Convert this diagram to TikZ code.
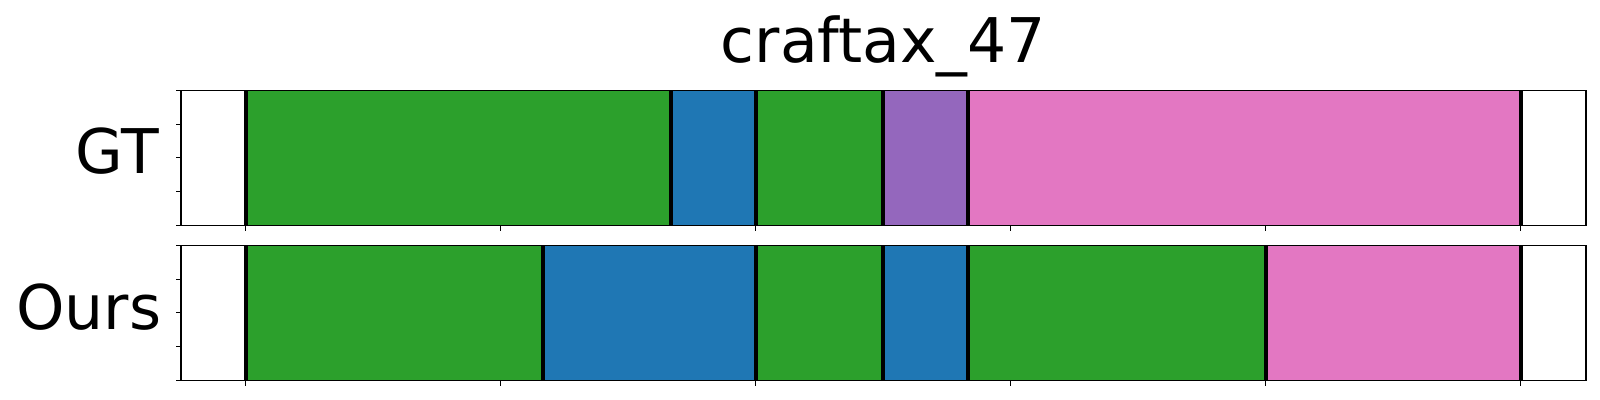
\documentclass[tikz,border=0pt]{standalone}
\usepackage{fontspec}
\setmainfont{DejaVu Sans}
\definecolor{tabgreen}{HTML}{2CA02C}
\definecolor{tabblue}{HTML}{1F77B4}
\definecolor{tabpurple}{HTML}{9467BD}
\definecolor{tabpink}{HTML}{E377C2}
\begin{document}
\begin{tikzpicture}
  [x=0.5pt,y=-0.5pt,
   every node/.style={inner sep=0pt,font=\fontsize{30.8pt}{37pt}\selectfont},
   frame/.style={draw=black,line width=0.6pt},
   tick/.style={draw=black,line width=0.5pt},
   bound/.style={draw=black,line width=2pt}]
  \useasboundingbox (0,0) rectangle (1600,400);
  % title and row labels
  \node[anchor=base] (title) at (883.5,62.7) {craftax\_47};
  \node[anchor=base east] (gt) at (159,174) {GT};
  \node[anchor=base east] (ours) at (161.5,330) {Ours};
  % GT segments
  \foreach \a/\b/\c in {245.7/670.7/tabgreen,670.7/755.7/tabblue,755.7/883.2/tabgreen,
                        883.2/968.2/tabpurple,968.2/1520.7/tabpink}
    \fill[\c] (\a,90.3) rectangle (\b,225.3);
  % Ours segments
  \foreach \a/\b/\c in {245.7/543.2/tabgreen,543.2/755.7/tabblue,755.7/883.2/tabgreen,
                        883.2/968.2/tabblue,968.2/1265.7/tabgreen,1265.7/1520.7/tabpink}
    \fill[\c] (\a,245.3) rectangle (\b,380.3);
  % segment boundaries
  \foreach \x in {245.7,670.7,755.7,883.2,968.2,1520.7}
    \draw[bound] (\x,90.3) -- (\x,225.3);
  \foreach \x in {245.7,543.2,755.7,883.2,968.2,1265.7,1520.7}
    \draw[bound] (\x,245.3) -- (\x,380.3);
  % axes frames and ticks
  \foreach \t in {90.3,245.3} {
    \draw[frame] (181,\t) rectangle (1586,\t+135);
    \foreach \k in {0,...,4}
      \draw[tick] (181,\t+33.75*\k) -- (175.5,\t+33.75*\k);
    \foreach \k in {0,...,5}
      \draw[tick] (245.7+255*\k,\t+135) -- (245.7+255*\k,\t+140.5);
  }
\end{tikzpicture}
\end{document}
